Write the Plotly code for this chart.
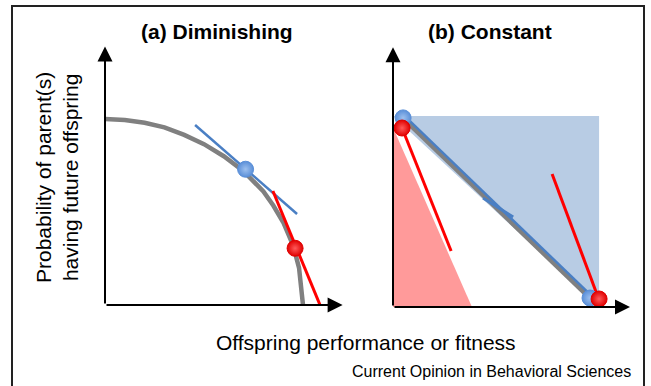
import plotly.graph_objects as go

# ---------------- data (panel a: diminishing) ----------------
a_curve_x = [0, 0.1, 0.2, 0.3, 0.4, 0.5, 0.6, 0.7, 0.8, 0.85, 0.9, 0.95, 0.98, 1.0]
a_curve_y = [1.0, 0.995, 0.98, 0.955, 0.915, 0.865, 0.80, 0.72, 0.61, 0.535, 0.445, 0.32, 0.2, 0.0]
a_blue_tan_x = [0.455, 0.97]
a_blue_tan_y = [0.968, 0.489]
a_red_tan_x = [0.848, 1.086]
a_red_tan_y = [0.613, 0.0]
a_blue_pt = (0.71, 0.73)
a_red_pt = (0.96, 0.305)

# ---------------- data (panel b: constant) ----------------
b_blue_area_x = [0.0, 1.0, 1.0, 0.0]
b_blue_area_y = [1.0, 1.0, 0.0, 1.0]
b_red_area_x = [0.0, 0.383, 0.0, 0.0]
b_red_area_y = [0.94, 0.0, 0.0, 0.94]
b_diag_x = [0.049, 0.956]
b_diag_y = [0.99, 0.047]
b_blue_diag_x = [0.052, 0.96]
b_blue_diag_y = [1.004, 0.062]
b_blue_short_x = [0.437, 0.583]
b_blue_short_y = [0.571, 0.471]
b_red_line1_x = [0.044, 0.282]
b_red_line1_y = [0.937, 0.293]
b_red_line2_x = [0.772, 1.0]
b_red_line2_y = [0.696, 0.037]
b_blue_pts_x = [0.049, 0.956]
b_blue_pts_y = [0.99, 0.047]
b_red_pts_x = [0.044, 1.0]
b_red_pts_y = [0.937, 0.042]

titles = ["(a) Diminishing", "(b) Constant"]
y_title = "Probability of parent(s)<br>having future offspring"
x_title = "Offspring performance or fitness"
credit = "Current Opinion in Behavioral Sciences"

GRAY = "#808080"
BLUE = "#4a7fc4"
RED = "#ff0000"
BLUE_FILL = "#b8cce4"
RED_FILL = "#ff9a9a"

W, H = 651, 386
fig = go.Figure()

def line(x, y, color, width, xa, ya):
    fig.add_trace(go.Scatter(x=x, y=y, mode="lines", line=dict(color=color, width=width),
                             xaxis=xa, yaxis=ya, hoverinfo="skip", showlegend=False))

def dots(x, y, color, center, xa, ya):
    fig.add_trace(go.Scatter(x=x, y=y, mode="markers",
                             marker=dict(size=16, color=color,
                                         gradient=dict(type="radial", color=center),
                                         line=dict(color=color, width=1)),
                             xaxis=xa, yaxis=ya, hoverinfo="skip", showlegend=False))

# panel a
line(a_curve_x, a_curve_y, GRAY, 4.5, "x", "y")
line(a_blue_tan_x, a_blue_tan_y, BLUE, 2.5, "x", "y")
line(a_red_tan_x, a_red_tan_y, RED, 3, "x", "y")
dots([a_blue_pt[0]], [a_blue_pt[1]], "#5a8fd8", "#9dc0ef", "x", "y")
dots([a_red_pt[0]], [a_red_pt[1]], "#e00000", "#ff5a5a", "x", "y")

# panel b
fig.add_trace(go.Scatter(x=b_blue_area_x, y=b_blue_area_y, mode="lines", fill="toself",
                         fillcolor=BLUE_FILL, line=dict(width=0), xaxis="x2", yaxis="y2",
                         hoverinfo="skip", showlegend=False))
fig.add_trace(go.Scatter(x=b_red_area_x, y=b_red_area_y, mode="lines", fill="toself",
                         fillcolor=RED_FILL, line=dict(width=0), xaxis="x2", yaxis="y2",
                         hoverinfo="skip", showlegend=False))
line(b_diag_x, b_diag_y, GRAY, 5, "x2", "y2")
line(b_blue_diag_x, b_blue_diag_y, BLUE, 2.5, "x2", "y2")
line(b_blue_short_x, b_blue_short_y, BLUE, 3, "x2", "y2")
line(b_red_line1_x, b_red_line1_y, RED, 3, "x2", "y2")
line(b_red_line2_x, b_red_line2_y, RED, 3, "x2", "y2")
dots(b_blue_pts_x, b_blue_pts_y, "#5a8fd8", "#9dc0ef", "x2", "y2")
dots(b_red_pts_x, b_red_pts_y, "#e00000", "#ff5a5a", "x2", "y2")

# axes geometry
ax_common = dict(visible=False, fixedrange=True)
fig.update_layout(
    width=W, height=H,
    margin=dict(l=0, r=0, t=0, b=0),
    paper_bgcolor="white", plot_bgcolor="rgba(0,0,0,0)",
    xaxis=dict(domain=[105 / W, 342.6 / W], range=[0, 1.2], **ax_common),
    yaxis=dict(domain=[1 - 305 / H, 1 - 46.5 / H], range=[0, 1.39], **ax_common),
    xaxis2=dict(domain=[393 / W, 630 / W], range=[0, 1.15], anchor="y2", **ax_common),
    yaxis2=dict(domain=[1 - 307 / H, 1 - 47.2 / H], range=[0, 1.36], anchor="x2", **ax_common),
    font=dict(family="Liberation Sans, Arial, sans-serif", color="black"),
)

annotations = []
# axis arrows
for xr, yr, xmax, ymax in [("x", "y", 1.2, 1.39), ("x2", "y2", 1.15, 1.36)]:
    annotations.append(dict(x=xmax, y=0, ax=0, ay=0, xref=xr, yref=yr, axref=xr, ayref=yr,
                            text="", showarrow=True, arrowhead=2, arrowsize=1.5,
                            arrowwidth=2, arrowcolor="black", standoff=0))
    annotations.append(dict(x=0, y=ymax, ax=0, ay=0, xref=xr, yref=yr, axref=xr, ayref=yr,
                            text="", showarrow=True, arrowhead=2, arrowsize=1.5,
                            arrowwidth=2, arrowcolor="black", standoff=0))

# panel titles
annotations.append(dict(x=217 / W, y=1 - 32 / H, xref="paper", yref="paper", text="<b>" + titles[0] + "</b>",
                        showarrow=False, font=dict(size=21), xanchor="center", yanchor="middle"))
annotations.append(dict(x=490 / W, y=1 - 32 / H, xref="paper", yref="paper", text="<b>" + titles[1] + "</b>",
                        showarrow=False, font=dict(size=21), xanchor="center", yanchor="middle"))
# y title
annotations.append(dict(x=57 / W, y=1 - 178 / H, xref="paper", yref="paper", text=y_title, textangle=-90,
                        showarrow=False, font=dict(size=21), xanchor="center", yanchor="middle"))
# x title
annotations.append(dict(x=366 / W, y=1 - 342 / H, xref="paper", yref="paper", text=x_title,
                        showarrow=False, font=dict(size=21), xanchor="center", yanchor="middle"))
# credit
annotations.append(dict(x=633 / W, y=1 - 371 / H, xref="paper", yref="paper", text=credit,
                        showarrow=False, font=dict(size=16), xanchor="right", yanchor="middle"))
fig.update_layout(annotations=annotations)

# outer frame (open at bottom, runs off the page)
fig.add_shape(type="rect", xref="paper", yref="paper", x0=12 / W, x1=644 / W, y0=-0.1, y1=1 - 6 / H,
              line=dict(color="#222222", width=2), fillcolor="rgba(0,0,0,0)", layer="below")

fig.write_html("out.html", config={"displayModeBar": False},
               post_script="document.body.style.margin='0';document.body.style.overflow='hidden';")
